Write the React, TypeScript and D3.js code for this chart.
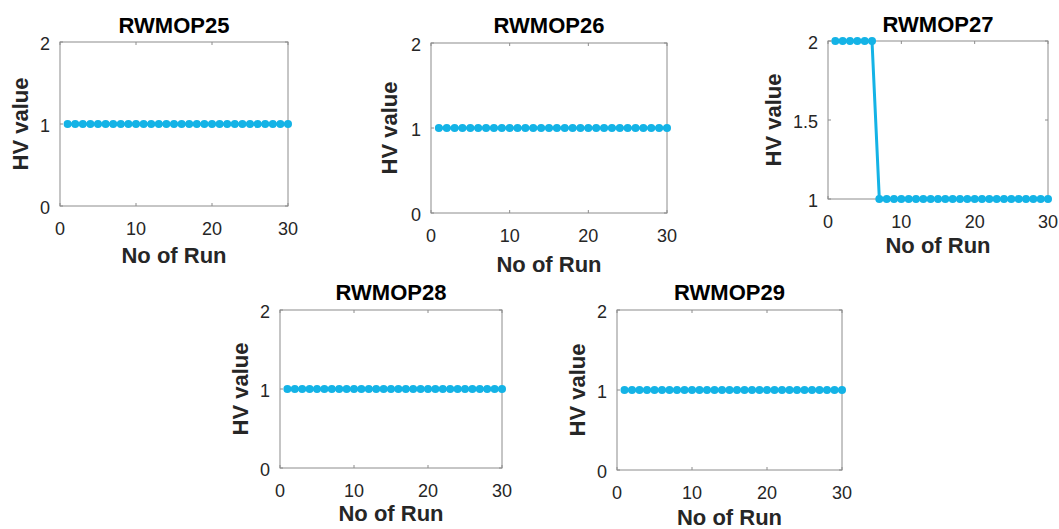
import React, { useRef, useEffect } from "react";
import * as d3 from "d3";

// run index 1..30
const runs = [
  1, 2, 3, 4, 5, 6, 7, 8, 9, 10, 11, 12, 13, 14, 15, 16, 17, 18, 19, 20, 21,
  22, 23, 24, 25, 26, 27, 28, 29, 30,
];

// HV value per run
const hv25 = [
  1, 1, 1, 1, 1, 1, 1, 1, 1, 1, 1, 1, 1, 1, 1, 1, 1, 1, 1, 1, 1, 1, 1, 1, 1,
  1, 1, 1, 1, 1,
];
const hv26 = [
  1, 1, 1, 1, 1, 1, 1, 1, 1, 1, 1, 1, 1, 1, 1, 1, 1, 1, 1, 1, 1, 1, 1, 1, 1,
  1, 1, 1, 1, 1,
];
const hv27 = [
  2, 2, 2, 2, 2, 2, 1, 1, 1, 1, 1, 1, 1, 1, 1, 1, 1, 1, 1, 1, 1, 1, 1, 1, 1,
  1, 1, 1, 1, 1,
];
const hv28 = [
  1, 1, 1, 1, 1, 1, 1, 1, 1, 1, 1, 1, 1, 1, 1, 1, 1, 1, 1, 1, 1, 1, 1, 1, 1,
  1, 1, 1, 1, 1,
];
const hv29 = [
  1, 1, 1, 1, 1, 1, 1, 1, 1, 1, 1, 1, 1, 1, 1, 1, 1, 1, 1, 1, 1, 1, 1, 1, 1,
  1, 1, 1, 1, 1,
];

const titles = ["RWMOP25", "RWMOP26", "RWMOP27", "RWMOP28", "RWMOP29"];
const xTicks = [0, 10, 20, 30];
const yTicksFull = [0, 1, 2];
const yTicks27 = [1, 1.5, 2];

const xLabel = "No of Run";
const yLabel = "HV value";

const panels = [
  { values: hv25, yDomain: [0, 2], yTicks: yTicksFull, left: 60, right: 288, top: 42, bottom: 206, titleY: 33, xLabelDy: 57, yLabelDx: 32 },
  { values: hv26, yDomain: [0, 2], yTicks: yTicksFull, left: 431, right: 667, top: 43, bottom: 213, titleY: 33, xLabelDy: 59, yLabelDx: 34 },
  { values: hv27, yDomain: [1, 2], yTicks: yTicks27, left: 828, right: 1048, top: 41, bottom: 199, titleY: 32, xLabelDy: 54, yLabelDx: 47 },
  { values: hv28, yDomain: [0, 2], yTicks: yTicksFull, left: 280, right: 502, top: 310, bottom: 468, titleY: 300, xLabelDy: 53, yLabelDx: 32 },
  { values: hv29, yDomain: [0, 2], yTicks: yTicksFull, left: 617, right: 842, top: 310, bottom: 470, titleY: 300, xLabelDy: 55, yLabelDx: 32 },
];

const lineColor = "#14b3e6";
const boxColor = "#8c8c8c";
const textColor = "#262626";
const font = "'Liberation Sans', Arial, sans-serif";

const App: React.FC = () => {
  const ref = useRef<SVGSVGElement>(null);

  useEffect(() => {
    document.body.style.margin = "0";
    const svg = d3.select(ref.current);
    svg.selectAll("*").remove();

    panels.forEach((p, i) => {
      const x = d3.scaleLinear().domain([0, 30]).range([p.left, p.right]);
      const y = d3.scaleLinear().domain(p.yDomain).range([p.bottom, p.top]);
      const g = svg.append("g");

      // axis box
      g.append("rect")
        .attr("x", p.left)
        .attr("y", p.top)
        .attr("width", p.right - p.left)
        .attr("height", p.bottom - p.top)
        .attr("fill", "white")
        .attr("stroke", boxColor)
        .attr("stroke-width", 1);

      // inward ticks on all four sides
      xTicks.forEach((t) => {
        g.append("line")
          .attr("x1", x(t)).attr("x2", x(t))
          .attr("y1", p.bottom).attr("y2", p.bottom - 3)
          .attr("stroke", boxColor);
        g.append("line")
          .attr("x1", x(t)).attr("x2", x(t))
          .attr("y1", p.top).attr("y2", p.top + 3)
          .attr("stroke", boxColor);
      });
      p.yTicks.forEach((t) => {
        g.append("line")
          .attr("x1", p.left).attr("x2", p.left + 3)
          .attr("y1", y(t)).attr("y2", y(t))
          .attr("stroke", boxColor);
        g.append("line")
          .attr("x1", p.right).attr("x2", p.right - 3)
          .attr("y1", y(t)).attr("y2", y(t))
          .attr("stroke", boxColor);
      });

      // tick labels
      g.selectAll(".xt")
        .data(xTicks)
        .enter()
        .append("text")
        .attr("x", (d) => x(d))
        .attr("y", p.bottom + 29)
        .attr("text-anchor", "middle")
        .style("font-family", font)
        .style("font-size", "18px")
        .style("fill", textColor)
        .text((d) => String(d));

      g.selectAll(".yt")
        .data(p.yTicks)
        .enter()
        .append("text")
        .attr("x", p.left - 10)
        .attr("y", (d) => y(d) + 8)
        .attr("text-anchor", "end")
        .style("font-family", font)
        .style("font-size", "18px")
        .style("fill", textColor)
        .text((d) => String(d));

      // series
      const line = d3
        .line<number>()
        .x((_, j) => x(runs[j]))
        .y((d) => y(d));

      g.append("path")
        .datum(p.values)
        .attr("d", line)
        .attr("fill", "none")
        .attr("stroke", lineColor)
        .attr("stroke-width", 3);

      g.selectAll(".pt")
        .data(p.values)
        .enter()
        .append("circle")
        .attr("cx", (_, j) => x(runs[j]))
        .attr("cy", (d) => y(d))
        .attr("r", 4)
        .attr("fill", lineColor);

      // title and axis labels
      g.append("text")
        .attr("x", (p.left + p.right) / 2)
        .attr("y", p.titleY)
        .attr("text-anchor", "middle")
        .style("font-family", font)
        .style("font-size", "22px")
        .style("font-weight", "bold")
        .style("fill", "#000")
        .text(titles[i]);

      g.append("text")
        .attr("x", (p.left + p.right) / 2)
        .attr("y", p.bottom + p.xLabelDy)
        .attr("text-anchor", "middle")
        .style("font-family", font)
        .style("font-size", "22px")
        .style("font-weight", "bold")
        .style("fill", textColor)
        .text(xLabel);

      const yc = (p.top + p.bottom) / 2;
      const yx = p.left - p.yLabelDx;
      g.append("text")
        .attr("transform", `translate(${yx},${yc}) rotate(-90)`)
        .attr("text-anchor", "middle")
        .style("font-family", font)
        .style("font-size", "22px")
        .style("font-weight", "bold")
        .style("fill", textColor)
        .text(yLabel);
    });
  }, []);

  return (
    <svg
      ref={ref}
      width={1059}
      height={529}
      style={{ display: "block", background: "white" }}
    ></svg>
  );
};

export default App;
